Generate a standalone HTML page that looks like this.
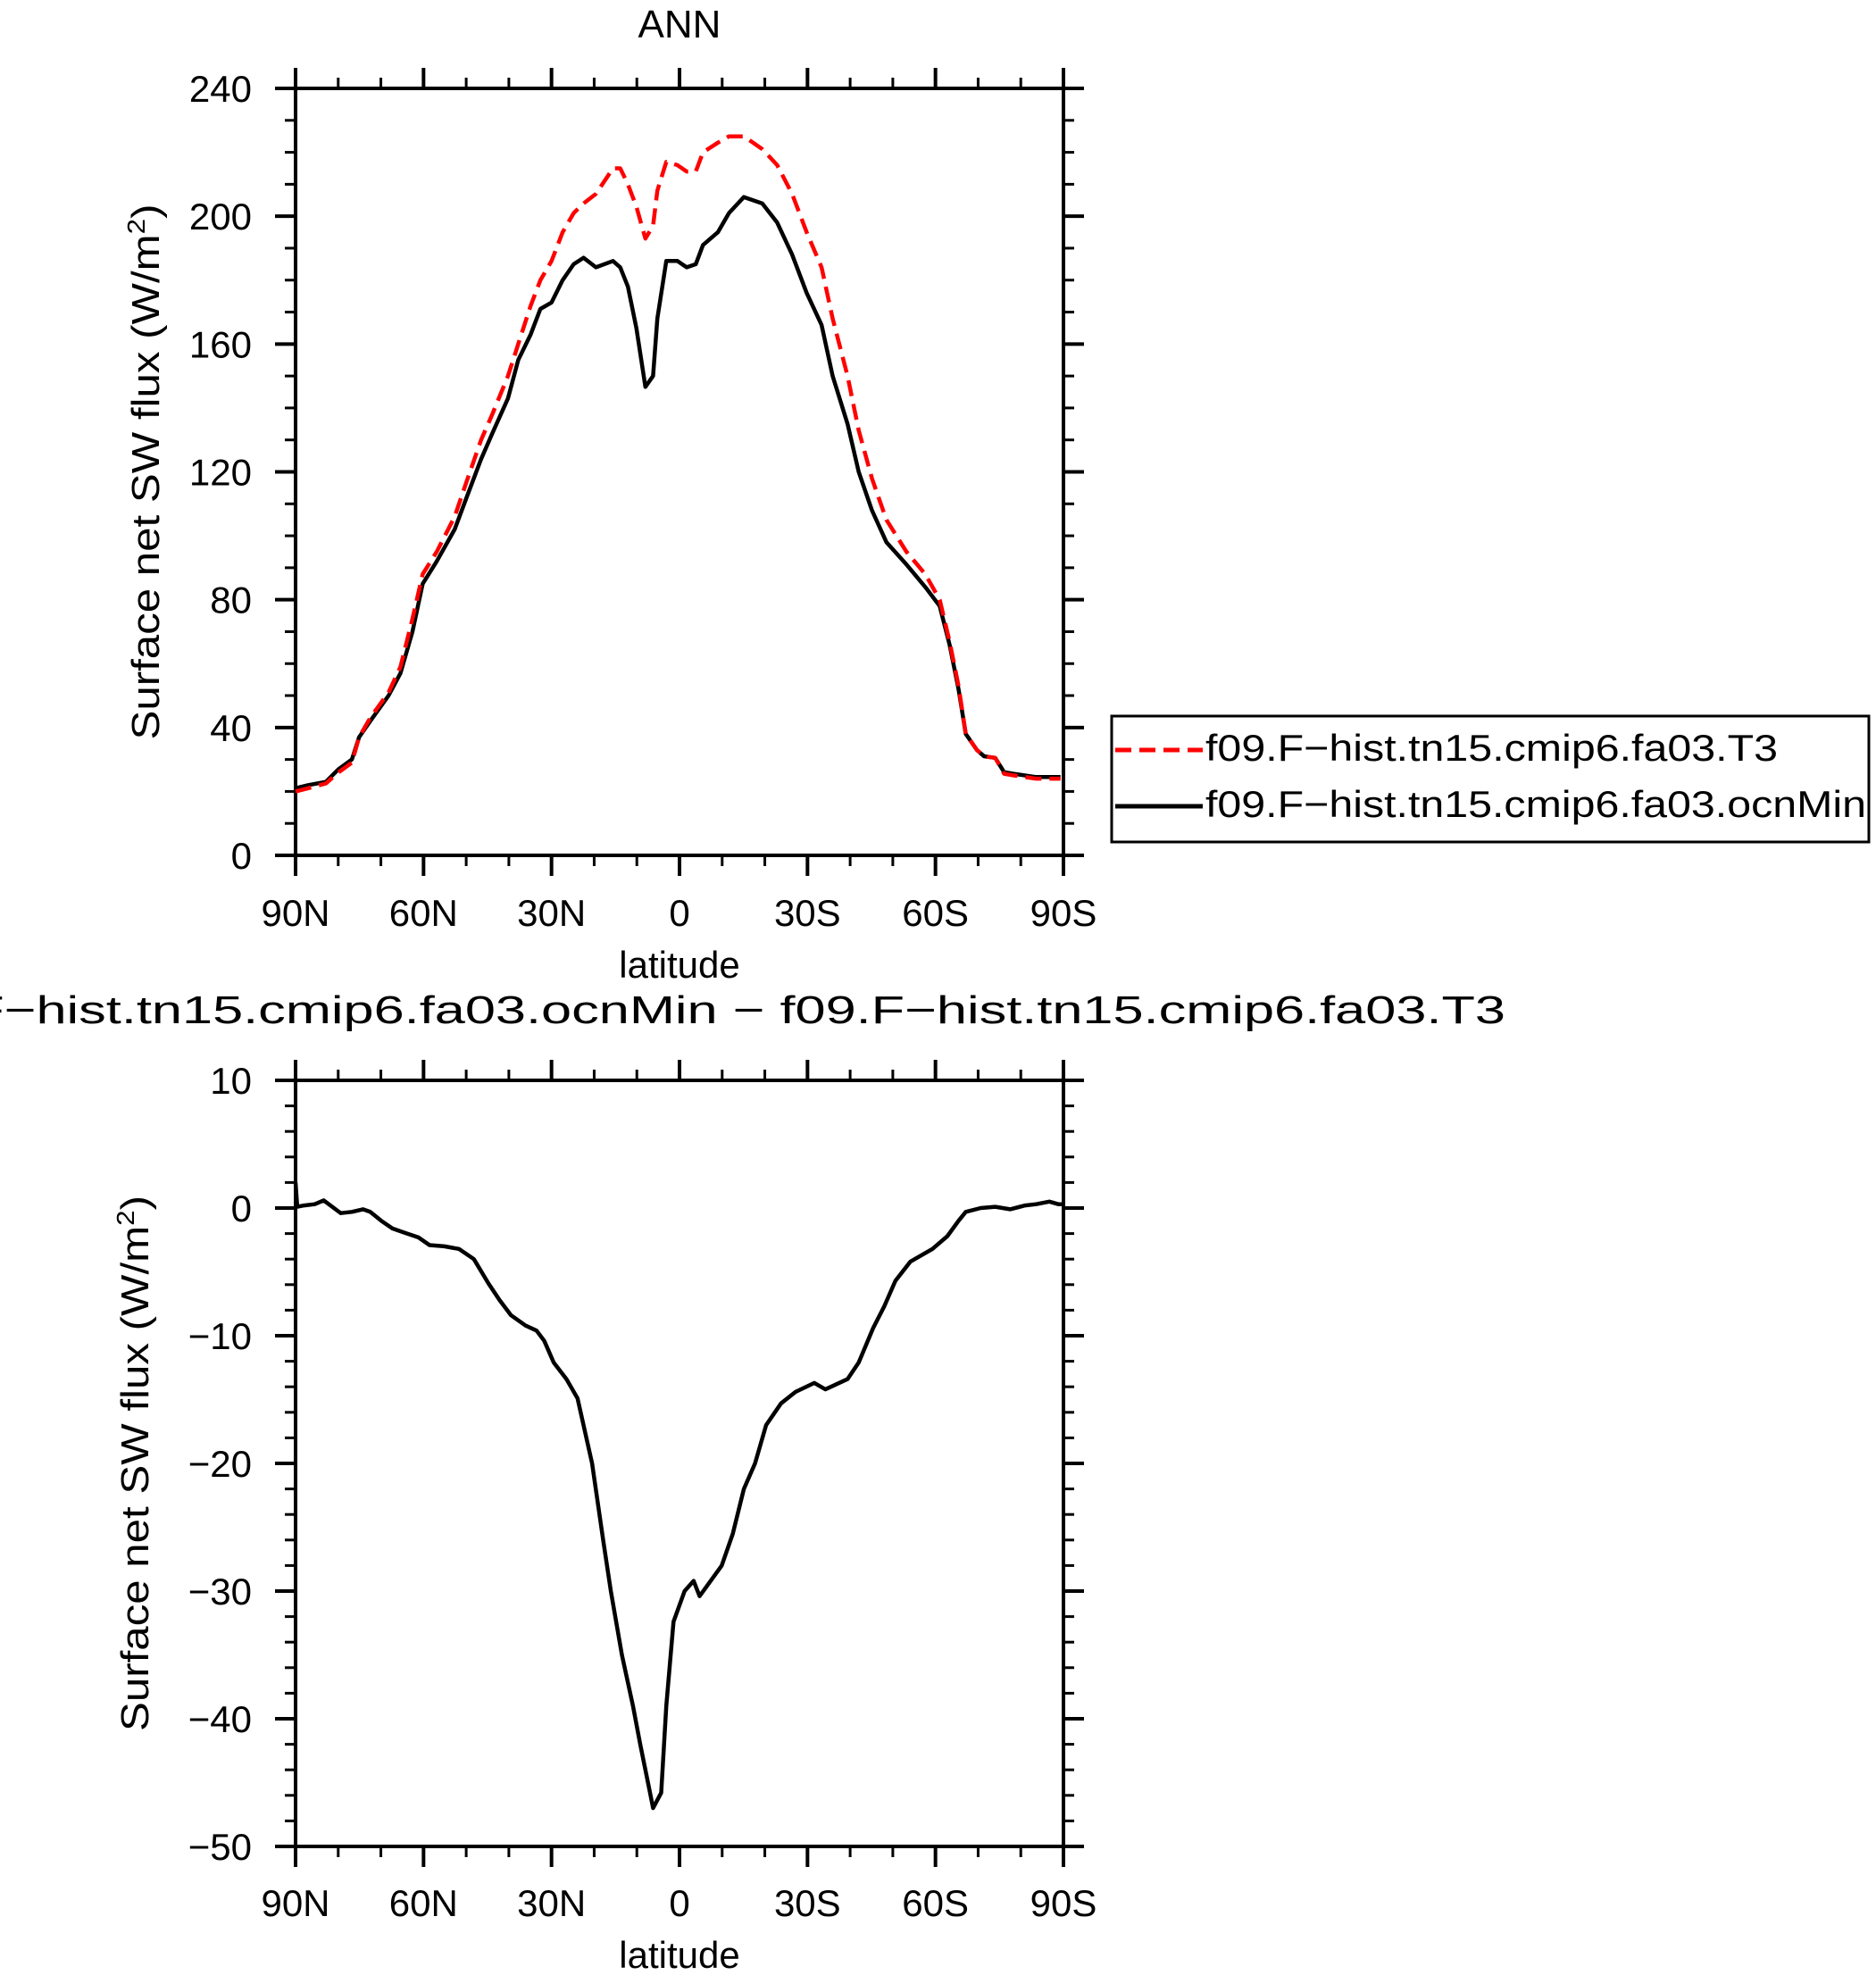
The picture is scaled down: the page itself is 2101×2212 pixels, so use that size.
<!DOCTYPE html>
<html><head><meta charset="utf-8"><style>
html,body{margin:0;padding:0;background:#fff}
svg{display:block}
text{font-family:"Liberation Sans",sans-serif;fill:#000}
</style></head><body>
<svg id="chart" width="2101" height="2212" viewBox="0 0 2101 2212" xmlns="http://www.w3.org/2000/svg">
<rect width="2101" height="2212" fill="#fff"/>
<text x="761" y="42" font-size="44" text-anchor="middle">ANN</text>
<text x="-135" y="1146" font-size="44" textLength="1821" lengthAdjust="spacingAndGlyphs">f09.F−hist.tn15.cmip6.fa03.ocnMin − f09.F−hist.tn15.cmip6.fa03.T3</text>
<g id="top"></g>
<g id="bot"></g>
<g>
<rect x="1245" y="802" width="848" height="141" fill="#fff" stroke="#000" stroke-width="3"/>
<line x1="1249" y1="840" x2="1347" y2="840" stroke="#f00" stroke-width="5" stroke-dasharray="18,9"/>
<text x="1350" y="852" font-size="42" textLength="641" lengthAdjust="spacingAndGlyphs">f09.F−hist.tn15.cmip6.fa03.T3</text>
<line x1="1249" y1="903" x2="1347" y2="903" stroke="#000" stroke-width="5"/>
<text x="1350" y="915" font-size="42" textLength="740" lengthAdjust="spacingAndGlyphs">f09.F−hist.tn15.cmip6.fa03.ocnMin</text>
</g>
</svg>
<script>
const latTop = [90,87,82.9,79.9,76.8,75.1,72.5,68.2,65.4,62.6,60.2,56.9,52.7,49.9,46.5,43.9,40.2,37.8,34.9,32.6,30,27.4,24.8,22.5,19.6,15.6,13.9,12.1,10.1,8,6.2,5.2,3.1,0.5,-1.7,-3.8,-5.5,-9,-11.6,-15.1,-19.4,-22.9,-26.4,-29.8,-33.3,-35.9,-39.4,-42,-45.1,-48.5,-53.2,-57.6,-61,-63.3,-65.4,-67.1,-69.7,-71.4,-74,-76.1,-78.4,-83.6,-89.3,-90];
const ocnMin = [21,22,23,27,30,37,42,50,57,70,85,92,102,112,124,132,143,155,163,171,173,180,185,187,184,186,184,178,165,146.6,150,168,186,186,184,185,191,195,201,206,204,198,188,176,166,150,135,120,108,98,91,84,78,66,52,38,33,31,30.5,26,25.5,24.5,24.5];
const t3 = [20,21,22.5,26,29,37,43,51,59,74,88,95,106,117,130,138,150,160,172,180,186,195,201,204,207,215,215,210,203,193,197,208,217,216,214,214,220,223,225,225,221,216,207,195,184,168,150,133,118,105,95,88,80,67,53,38,33,31,30.5,25.5,25,24,24];
const latDiff = [90,89.6,88,85.5,83.4,79.4,76.8,74.2,72.5,69.9,67.3,64.7,61.2,58.6,55.1,51.7,48.2,44.8,42.2,39.5,36.1,33.5,31.7,29.5,26.5,23.9,20.5,17.9,16.1,13.5,10.9,9.2,6.9,6.2,4.3,3.1,1.4,-1.2,-3.3,-4.7,-7.3,-9.9,-12.5,-15.1,-17.7,-20.3,-23.8,-27.2,-31.6,-34.2,-39.4,-42,-45.4,-48,-50.6,-54.1,-59.3,-62.8,-65.4,-67.1,-70.6,-74,-77.5,-81,-83.6,-86.7,-88.8,-90];
const diffVals = [2,0.1,0.2,0.3,0.6,-0.4,-0.3,-0.1,-0.3,-1.0,-1.6,-1.9,-2.3,-2.9,-3.0,-3.2,-4.0,-5.9,-7.2,-8.4,-9.2,-9.6,-10.4,-12.1,-13.4,-14.9,-20,-26,-30,-35,-39,-42,-45.8,-47,-45.8,-39,-32.4,-30,-29.2,-30.4,-29.2,-28,-25.5,-22,-20,-17,-15.3,-14.4,-13.7,-14.2,-13.4,-12.1,-9.4,-7.7,-5.7,-4.2,-3.2,-2.2,-1,-0.3,0,0.1,-0.1,0.2,0.3,0.5,0.3,0.3];
const xTickLats = [90,60,30,0,-30,-60,-90];
const xTickLabels = ["90N","60N","30N","0","30S","60S","90S"];
const topYTicks = [0,40,80,120,160,200,240];
const botYTicks = [-50,-40,-30,-20,-10,0,10];

const NS="http://www.w3.org/2000/svg";
const X0=331, X1=1191;
function xs(lat){return X0+(90-lat)/180*(X1-X0);}
function mk(parent,tag,attrs){const e=document.createElementNS(NS,tag);for(const k in attrs)e.setAttribute(k,attrs[k]);parent.appendChild(e);return e;}

function panel(g,Y0,Y1,vmin,vmax,yTicks,minorStep,labelBase,titleX){
  const ys=v=>Y1-(v-vmin)/(vmax-vmin)*(Y1-Y0);
  // minor ticks x
  for(let lat=90;lat>=-90;lat-=10){
    const x=xs(lat);const major=(lat%30===0);const L=major?23:12;
    let t=mk(g,'line',{x1:x,y1:Y0,x2:x,y2:Y0-L,stroke:'#000','stroke-width':major?4:3});
    
    
    t=mk(g,'line',{x1:x,y1:Y1,x2:x,y2:Y1+L,stroke:'#000','stroke-width':major?4:3});
    
    
  }
  for(let v=vmin;v<=vmax+1e-9;v+=minorStep){
    const y=ys(v);const major=yTicks.some(t=>Math.abs(t-v)<1e-6);const L=major?23:12;
    let t=mk(g,'line',{x1:X0,y1:y,x2:X0-L,y2:y,stroke:'#000','stroke-width':major?4:3});
    
    
    t=mk(g,'line',{x1:X1,y1:y,x2:X1+L,y2:y,stroke:'#000','stroke-width':major?4:3});
    
    
  }
  yTicks.forEach(v=>{
    const t=mk(g,'text',{x:282,y:ys(v)+15,'font-size':42,'text-anchor':'end'});
    t.textContent=(v<0?'−':'')+Math.abs(v);
    
    
  });
  xTickLats.forEach((lat,i)=>{
    const t=mk(g,'text',{x:xs(lat),y:labelBase,'font-size':42,'text-anchor':'middle'});
    t.textContent=xTickLabels[i];
    
    
  });
  const xt=mk(g,'text',{x:761,y:labelBase+58,'font-size':42,'text-anchor':'middle'});
  xt.textContent='latitude';
  
  
  const cy=(Y0+Y1)/2;
  const yt=mk(g,'text',{x:titleX,y:cy,'font-size':44,'text-anchor':'middle',transform:`rotate(-90 ${titleX} ${cy})`,textLength:600,lengthAdjust:'spacingAndGlyphs'});
  yt.innerHTML='Surface net SW flux (W/m<tspan dy="-16" font-size="28">2</tspan><tspan dy="16">)</tspan>';
  
  
  const fr=mk(g,'rect',{x:X0,y:Y0,width:X1-X0,height:Y1-Y0,fill:'none',stroke:'#000','stroke-width':4});
  
  
  return ys;
}
function series(g,lats,vals,ys,color,dash,name){
  const d=lats.map((l,i)=>(i?'L':'M')+xs(l).toFixed(1)+','+ys(vals[i]).toFixed(1)).join(' ');
  const p=mk(g,'path',{d:d,fill:'none',stroke:color,'stroke-width':4.5,'stroke-linejoin':'round'});
  if(dash)p.setAttribute('stroke-dasharray',dash);
  
  
}
const gt=document.getElementById('top'), gb=document.getElementById('bot');
const ysT=panel(gt,99,958,0,240,topYTicks,10,1037,178);
series(gt,latTop.slice(0,ocnMin.length),ocnMin,ysT,'#000',null,'line-ocnmin');
series(gt,latTop.slice(0,t3.length),t3,ysT,'#f00','18,9','line-t3');
const ysB=panel(gb,1210,2068,-50,10,botYTicks,2,2146,166);
series(gb,latDiff,diffVals,ysB,'#000',null,'line-difference');
</script>
</body></html>
